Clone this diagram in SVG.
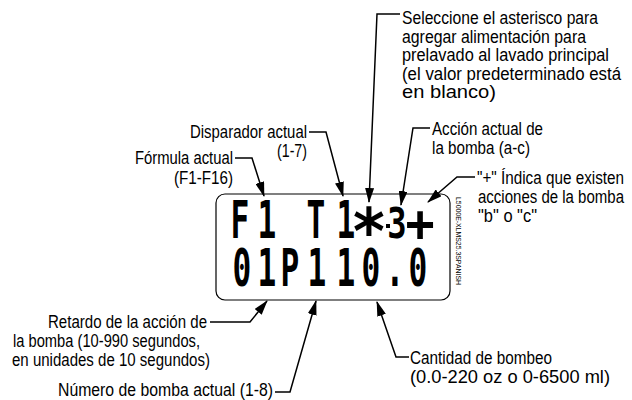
<svg xmlns="http://www.w3.org/2000/svg" width="632" height="400" viewBox="0 0 632 400">
<style>
.t{font-family:"Liberation Sans",Arial,sans-serif;font-size:17.5px;fill:#000}
.lcd{font-family:"DejaVu Sans Mono","Liberation Mono",monospace;font-weight:bold;font-size:52px;fill:#000}
.ld{fill:none;stroke:#000;stroke-width:1.5}
.code{font-family:"Liberation Sans",Arial,sans-serif;font-size:8px;fill:#000}
</style>
<defs>
<marker id="ah" markerUnits="userSpaceOnUse" markerWidth="15" markerHeight="9" refX="14" refY="4.5" orient="auto">
<path d="M0,0 L15,4.5 L0,9 Z" fill="#000"/>
</marker>
</defs>
<rect width="632" height="400" fill="#fff"/>
<g id="display">
<rect x="216" y="194" width="234" height="106" rx="9" fill="none" stroke="#000" stroke-width="1.2"/>
<text class="lcd" transform="scale(0.6,1)" x="400 445 526.7 576.7" y="238" text-anchor="middle">F1T1</text>
<text transform="translate(369,254) scale(0.95,1)" text-anchor="middle" style="font-family:'DejaVu Sans',sans-serif;font-weight:bold;font-size:64px;fill:#000">*</text>
<rect x="386" y="224" width="4" height="4" fill="#000"/>
<text transform="translate(397,238) scale(0.75,1)" text-anchor="middle" style="font-family:'DejaVu Sans Mono',monospace;font-weight:bold;font-size:43px;fill:#000">3</text>
<text transform="translate(420,241) scale(0.95,1)" text-anchor="middle" style="font-family:'DejaVu Sans Mono',monospace;font-weight:bold;font-size:51px;fill:#000">+</text>
<text class="lcd" transform="scale(0.6,1)" x="403.3 445 483.3 528.3 576.7 618.3 658.3 696.7" y="286" text-anchor="middle">01P110.0</text>
<text class="code" transform="translate(455.5,197) rotate(90)" x="0" y="0" textLength="88" lengthAdjust="spacingAndGlyphs">L5000E-XLMS25.3SPANISH</text>
</g>
<g id="connectors">
<path class="ld" d="M400,14 H377 L369,202" marker-end="url(#ah)"/>
<path class="ld" d="M309,132 H326 L343,196" marker-end="url(#ah)"/>
<path class="ld" d="M235,158 H252 L264,196" marker-end="url(#ah)"/>
<path class="ld" d="M430,128 H413 L401,205" marker-end="url(#ah)"/>
<path class="ld" d="M475,177 H457 L428,202" marker-end="url(#ah)"/>
<path class="ld" d="M210,322 H250 L267,301" marker-end="url(#ah)"/>
<path class="ld" d="M275,392 H290 L316,301" marker-end="url(#ah)"/>
<path class="ld" d="M409,357 H396 L377,302" marker-end="url(#ah)"/>
</g>
<g id="n-seleccione">
<text class="t" x="402" y="24" textLength="196" lengthAdjust="spacingAndGlyphs">Seleccione el asterisco para</text>
<text class="t" x="402" y="42.5" textLength="184" lengthAdjust="spacingAndGlyphs">agregar alimentación para</text>
<text class="t" x="402" y="61" textLength="207" lengthAdjust="spacingAndGlyphs">prelavado al lavado principal</text>
<text class="t" x="402" y="79.5" textLength="219" lengthAdjust="spacingAndGlyphs">(el valor predeterminado está</text>
<text class="t" x="402" y="98" textLength="94" lengthAdjust="spacingAndGlyphs">en blanco)</text>
</g>
<g id="n-disparador">
<text class="t" x="190" y="138" textLength="117" lengthAdjust="spacingAndGlyphs">Disparador actual</text>
<text class="t" x="277" y="157" textLength="30" lengthAdjust="spacingAndGlyphs">(1-7)</text>
</g>
<g id="n-formula">
<text class="t" x="135" y="164" textLength="98" lengthAdjust="spacingAndGlyphs">Fórmula actual</text>
<text class="t" x="174" y="184" textLength="59" lengthAdjust="spacingAndGlyphs">(F1-F16)</text>
</g>
<g id="n-accion">
<text class="t" x="432" y="135" textLength="111" lengthAdjust="spacingAndGlyphs">Acción actual de</text>
<text class="t" x="432" y="154" textLength="98" lengthAdjust="spacingAndGlyphs">la bomba (a-c)</text>
</g>
<g id="n-indica">
<text class="t" x="477" y="184" textLength="147" lengthAdjust="spacingAndGlyphs">"+" Índica que existen</text>
<text class="t" x="478" y="203" textLength="146" lengthAdjust="spacingAndGlyphs">acciones de la bomba</text>
<text class="t" x="478" y="222" textLength="59" lengthAdjust="spacingAndGlyphs">"b" o "c"</text>
</g>
<g id="n-retardo">
<text class="t" x="48" y="328" textLength="159" lengthAdjust="spacingAndGlyphs">Retardo de la acción de</text>
<text class="t" x="13" y="347" textLength="187" lengthAdjust="spacingAndGlyphs">la bomba (10-990 segundos,</text>
<text class="t" x="12" y="365.5" textLength="198" lengthAdjust="spacingAndGlyphs">en unidades de 10 segundos)</text>
</g>
<g id="n-numero">
<text class="t" x="58" y="396" textLength="215" lengthAdjust="spacingAndGlyphs">Número de bomba actual (1-8)</text>
</g>
<g id="n-cantidad">
<text class="t" x="410" y="364" textLength="142" lengthAdjust="spacingAndGlyphs">Cantidad de bombeo</text>
<text class="t" x="410" y="383" textLength="200" lengthAdjust="spacingAndGlyphs">(0.0-220 oz o 0-6500 ml)</text>
</g>
</svg>
